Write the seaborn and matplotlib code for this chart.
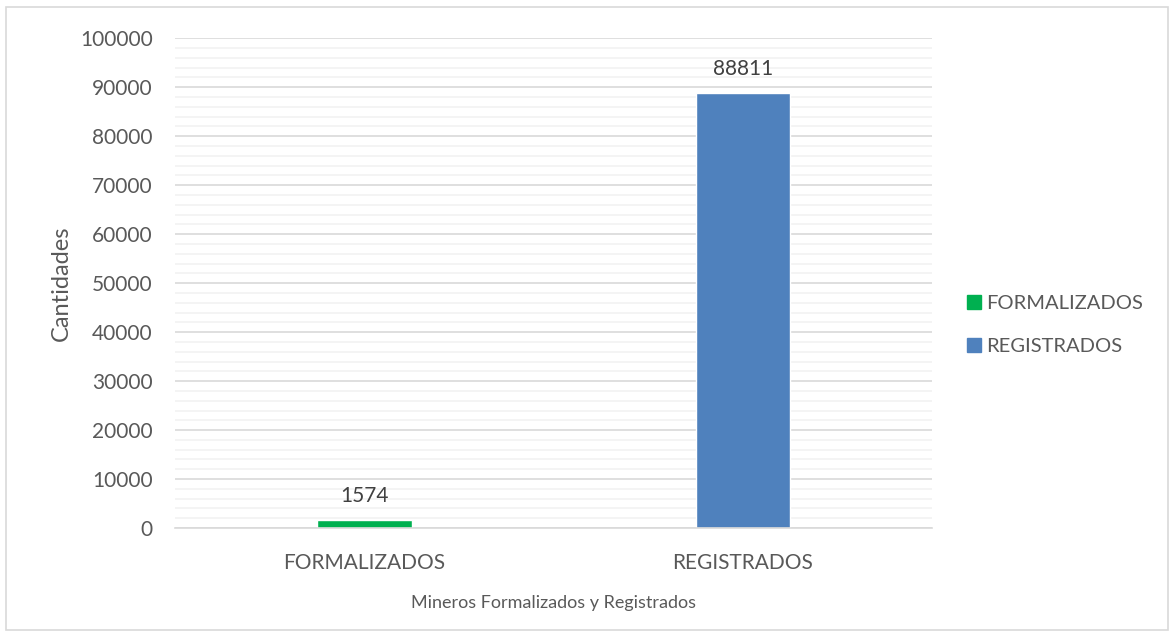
import matplotlib
matplotlib.use("Agg")
import matplotlib.pyplot as plt
import seaborn as sns
import pandas as pd
from matplotlib.patches import Rectangle
from matplotlib.ticker import MultipleLocator
from matplotlib.lines import Line2D

categories = ["FORMALIZADOS", "REGISTRADOS"]
values = [1574, 88811]
colors = ["#00B050", "#4F81BD"]
yticks = [0, 10000, 20000, 30000, 40000, 50000, 60000, 70000, 80000, 90000, 100000]

sns.set_theme(style="white")
plt.rcParams['font.family'] = ['Lato', 'DejaVu Sans']
txt = "#595959"

fig = plt.figure(figsize=(11.74, 6.37), dpi=100)
ax = fig.add_axes([0.149, 0.171, 0.645, 0.769])

df = pd.DataFrame({"cat": categories, "val": values})
sns.barplot(data=df, x="cat", y="val", hue="cat", palette=colors, width=0.25,
            dodge=False, legend=False, ax=ax, saturation=1)

ax.set_ylim(0, 100000)
ax.set_yticks(yticks)
ax.yaxis.set_minor_locator(MultipleLocator(2000))
ax.grid(which="major", axis="y", color="#D9D9D9", linewidth=1.2)
ax.grid(which="minor", axis="y", color="#F2F2F2", linewidth=1.2)
ax.set_axisbelow(True)
for s in ["left", "right", "top"]:
    ax.spines[s].set_visible(False)
ax.spines["bottom"].set_color("#D9D9D9")
ax.spines["bottom"].set_linewidth(1.2)
ax.tick_params(axis="y", length=0, labelsize=15, colors=txt, pad=16)
ax.tick_params(axis="x", length=0, labelsize=15, colors=txt, pad=18)
ax.set_ylabel("Cantidades", fontsize=17, color=txt, labelpad=6)
ax.set_xlabel("Mineros Formalizados y Registrados", fontsize=13, color=txt, labelpad=16)

for i, v in enumerate(values):
    ax.annotate(str(v), (i, v), xytext=(0, 10), textcoords="offset points",
                ha="center", va="bottom", fontsize=15, color="#404040")

handles = [Line2D([0], [0], marker="s", linestyle="", markersize=10,
                  markerfacecolor=c, markeredgecolor=c) for c in colors]
fig.legend(handles, categories, loc="center left", bbox_to_anchor=(0.806, 0.49),
           frameon=False, fontsize=14.5, labelcolor=txt, handletextpad=0.1,
           labelspacing=1.3, handlelength=1.0)

fig.add_artist(Rectangle((0.005, 0.011), 0.99, 0.978, transform=fig.transFigure,
                         fill=False, edgecolor="#D9D9D9", linewidth=1.2))

fig.savefig("out.png", dpi=100)
